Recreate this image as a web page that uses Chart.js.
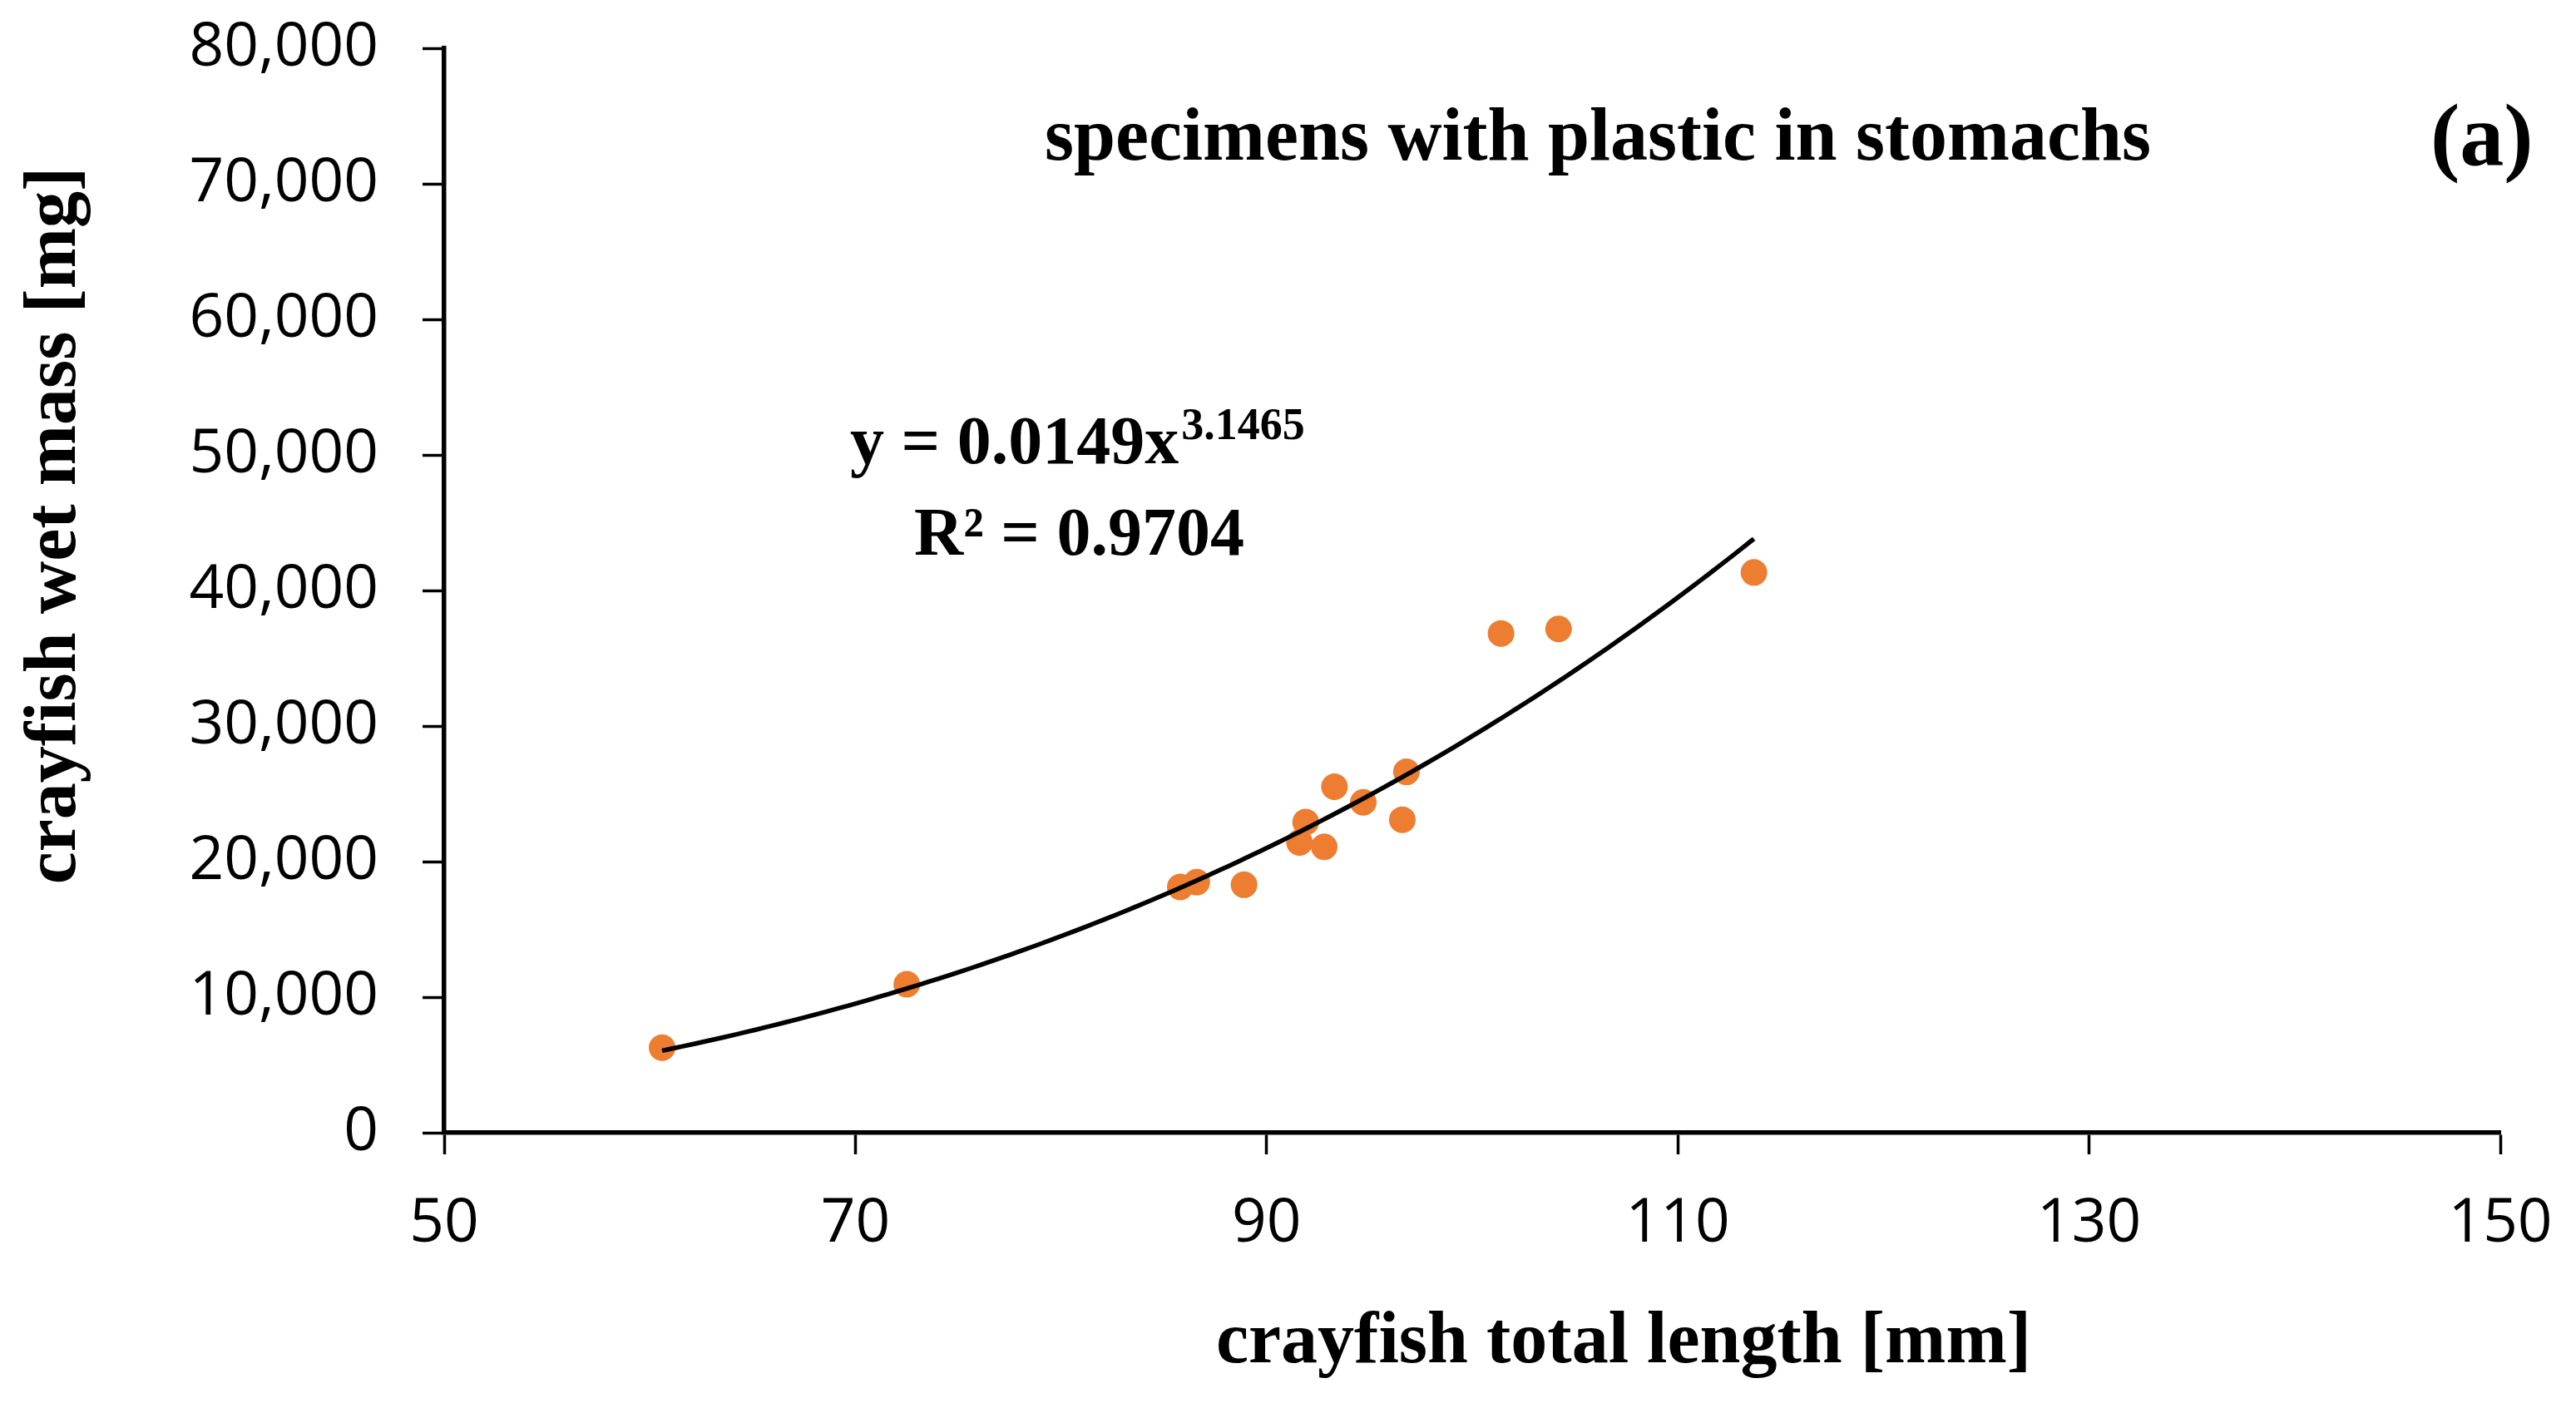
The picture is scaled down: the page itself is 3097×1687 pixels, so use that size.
<!DOCTYPE html>
<html>
<head>
<meta charset="utf-8">
<script src="https://cdn.jsdelivr.net/npm/chart.js@4.4.1/dist/chart.umd.min.js"></script>
<style>
    html, body { margin: 0; padding: 0; background: #ffffff; }
    #wrap { width: 3097px; height: 1687px; }
</style>
</head>
<body>
<div id="wrap"><canvas id="massChart" width="3097" height="1687"></canvas></div>
<script>
// crayfish total length [mm] and wet mass [mg], one entry per specimen
const lengthMm = [60.6, 72.5, 85.8, 86.6, 88.9, 91.6, 91.9, 92.8, 93.3, 94.7, 96.6, 96.8, 101.4, 104.2, 113.7];
const massMg   = [6270, 10950, 18130, 18480, 18290, 21410, 22920, 21090, 25520, 24370, 23090, 26620, 36830, 37160, 41330];

// power trend line printed on the chart: y = a * x^b
const fitCoef = 0.0149;
const fitExp = 3.1465;
const fitR2 = "0.9704";

// axis ranges and tick steps
const xRange = [50, 150];
const xStep = 20;
const yRange = [0, 80000];
const yStep = 10000;

const titleText = "specimens with plastic in stomachs";
const panelText = "(a)";
const xTitle = "crayfish total length [mm]";
const yTitle = "crayfish wet mass [mg]";

const serif = "'Liberation Serif', 'Times New Roman', serif";
const sans = "'Open Sans', 'Noto Sans', sans-serif";

function buildTrend() {
    const lo = Math.min(...lengthMm);
    const hi = Math.max(...lengthMm);
    const pts = [];
    for (let x = lo; x < hi; x += 0.5) pts.push({ x: x, y: fitCoef * Math.pow(x, fitExp) });
    pts.push({ x: hi, y: fitCoef * Math.pow(hi, fitExp) });
    return pts;
}

// labels that Excel put on the plot: title, panel letter, equation, axis titles
const textPlugin = {
    id: 'chartTexts',
    afterDraw(chart) {
        const ctx = chart.ctx;
        ctx.save();
        ctx.fillStyle = '#000';
        ctx.textBaseline = 'alphabetic';

        ctx.font = `bold 90px ${serif}`;
        ctx.textAlign = 'left';
        ctx.fillText(titleText, 1256, 192);

        ctx.font = `bold 106px ${serif}`;
        ctx.fillText(panelText, 2922, 198);

        // equation with superscript exponent
        ctx.font = `bold 82px ${serif}`;
        const eqMain = `y = ${fitCoef}x`;
        ctx.fillText(eqMain, 1022, 557);
        const w = ctx.measureText(eqMain).width;
        ctx.font = `bold 54px ${serif}`;
        ctx.fillText(String(fitExp), 1022 + w + 3, 528);

        ctx.font = `bold 82px ${serif}`;
        ctx.fillText(`R\u00B2 = ${fitR2}`, 1099, 667);

        // axis titles
        ctx.font = `bold 88px ${serif}`;
        ctx.textAlign = 'center';
        ctx.fillText(xTitle, 1952, 1638);

        ctx.translate(90, 632);
        ctx.rotate(-Math.PI / 2);
        ctx.fillText(yTitle, 0, 0);
        ctx.restore();
    }
};

function renderChart() {
    const ctx = document.getElementById('massChart');

    new Chart(ctx, {
        type: 'scatter',
        data: {
            datasets: [
                {
                    label: 'trend',
                    type: 'line',
                    data: buildTrend(),
                    borderColor: '#000000',
                    borderWidth: 5.5,
                    pointRadius: 0,
                    tension: 0,
                    fill: false,
                    order: 1
                },
                {
                    label: 'specimens',
                    data: lengthMm.map((x, i) => ({ x: x, y: massMg[i] })),
                    backgroundColor: '#ED7D31',
                    borderWidth: 0,
                    pointRadius: 16,
                    order: 2
                }
            ]
        },
        options: {
            responsive: false,
            animation: false,
            devicePixelRatio: 1,
            layout: { padding: { left: 0, right: 91, top: 58, bottom: 0 } },
            plugins: {
                legend: { display: false },
                tooltip: { enabled: false }
            },
            scales: {
                x: {
                    type: 'linear',
                    min: xRange[0],
                    max: xRange[1],
                    afterFit: (scale) => {
                        scale.height = 325;
                        scale.paddingLeft = 0;
                        scale.paddingRight = 0;
                    },
                    ticks: {
                        stepSize: xStep,
                        color: '#000',
                        padding: 40,
                        font: { family: sans, size: 73 }
                    },
                    grid: {
                        drawOnChartArea: false,
                        drawTicks: true,
                        tickLength: 26,
                        tickWidth: 3.5,
                        tickColor: '#000'
                    },
                    border: { display: true, color: '#000', width: 5.5 }
                },
                y: {
                    type: 'linear',
                    min: yRange[0],
                    max: yRange[1],
                    afterFit: (scale) => {
                        scale.width = 534;
                        scale.paddingTop = 0;
                        scale.paddingBottom = 0;
                    },
                    ticks: {
                        stepSize: yStep,
                        color: '#000',
                        padding: 53,
                        font: { family: sans, size: 73 },
                        callback: (v) => v.toLocaleString('en-US')
                    },
                    grid: {
                        drawOnChartArea: false,
                        drawTicks: true,
                        tickLength: 26,
                        tickWidth: 3.5,
                        tickColor: '#000'
                    },
                    border: { display: true, color: '#000', width: 5.5 }
                }
            }
        },
        plugins: [textPlugin]
    });
}

document.addEventListener("DOMContentLoaded", renderChart);
</script>
</body>
</html>
